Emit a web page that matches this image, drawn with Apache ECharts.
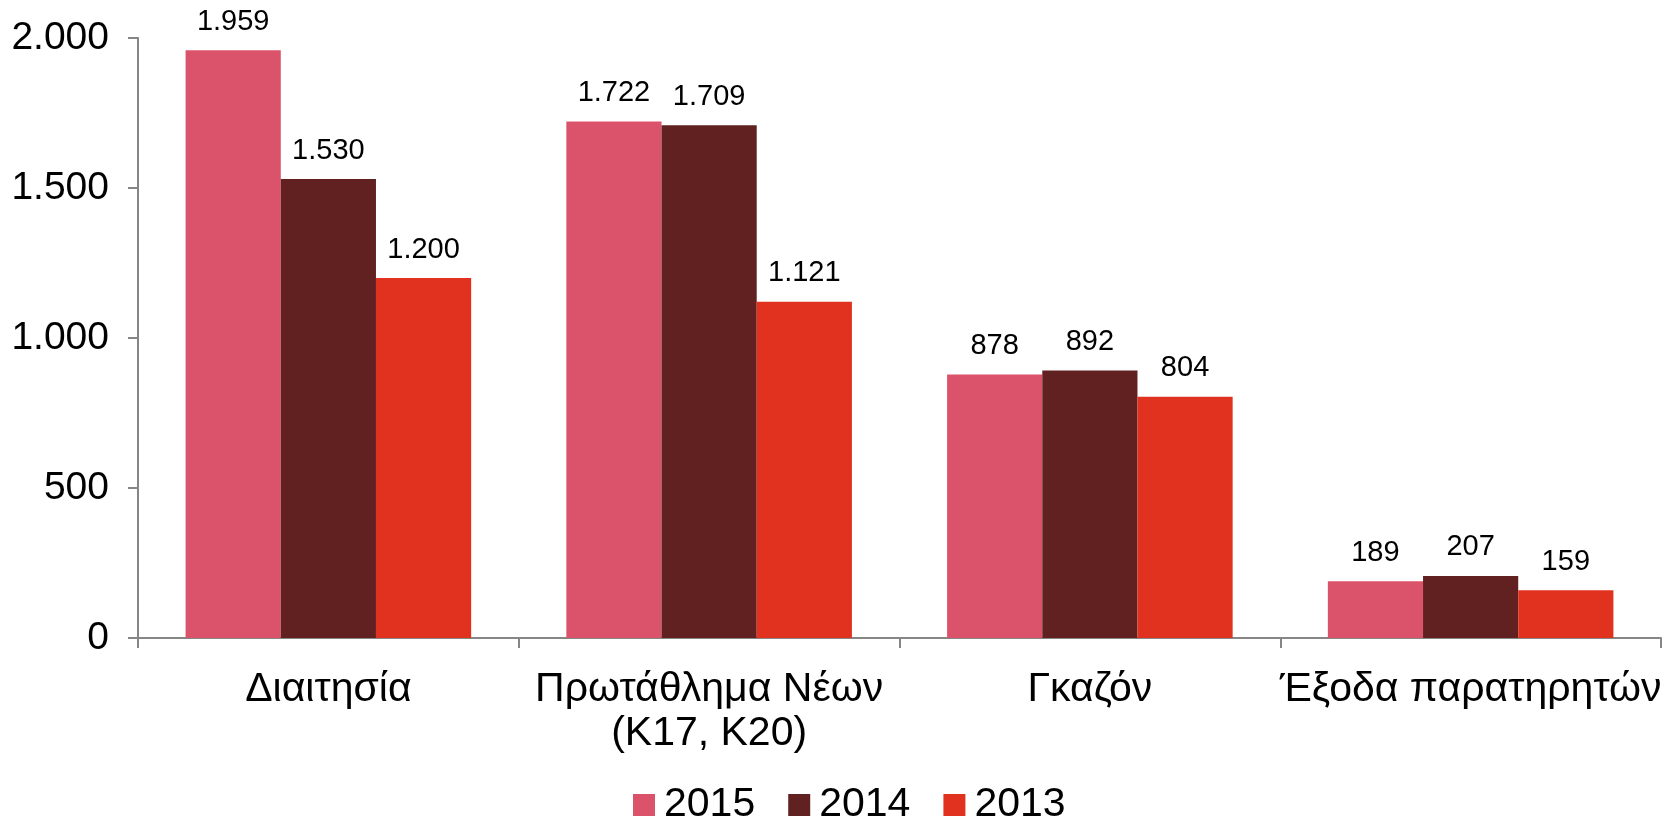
<!DOCTYPE html>
<html>
<head>
<meta charset="utf-8">
<script src="https://cdn.jsdelivr.net/npm/echarts@6/dist/echarts.min.js"></script>
<style>
  html, body { margin: 0; padding: 0; background: #fff; }
  #chart { width: 1667px; height: 820px; }
</style>
</head>
<body>
<div id="chart"></div>
<script>
// categories and values
var categories = ['Διαιτησία', 'Πρωτάθλημα Νέων\n(Κ17, Κ20)', 'Γκαζόν', 'Έξοδα παρατηρητών']
var years = ['2015', '2014', '2013']
var values2015 = [1959, 1722, 878, 189]
var values2014 = [1530, 1709, 892, 207]
var values2013 = [1200, 1121, 804, 159]
var yTicks = [0, 500, 1000, 1500, 2000]

var colors = ['#DB536B', '#612121', '#E0321F']
var font = 'Liberation Sans, Arial, sans-serif'

// 1959 -> 1.959
function fmt(v) {
  return String(v).replace(/\B(?=(\d{3})+(?!\d))/g, '.')
}

function makeSeries(name, data, color) {
  return {
    name: name,
    type: 'bar',
    data: data,
    barGap: '0%',
    barCategoryGap: '25%',
    itemStyle: { color: color },
    label: {
      show: true,
      position: 'top',
      distance: 14,
      fontSize: 29,
      fontFamily: font,
      color: '#000',
      formatter: function(p) { return fmt(p.value) }
    },
    animation: false
  }
}

var chart = echarts.init(document.getElementById('chart'))
chart.setOption({
  textStyle: { fontFamily: font },
  grid: { left: 138, right: 6, top: 38, bottom: 182, containLabel: false },
  legend: {
    data: years,
    top: 778,
    left: 628,
    icon: 'rect',
    itemWidth: 22,
    itemHeight: 22,
    itemGap: 33,
    textStyle: { fontSize: 41, lineHeight: 44, fontFamily: font, color: '#000', padding: [0, 0, 0, 4] }
  },
  xAxis: {
    type: 'category',
    data: categories,
    axisLine: { lineStyle: { color: '#868686', width: 2 } },
    axisTick: { show: true, length: 10, lineStyle: { color: '#868686', width: 2 } },
    axisLabel: {
      fontSize: 41,
      fontFamily: font,
      color: '#000',
      margin: 30,
      lineHeight: 44,
      interval: 0
    }
  },
  yAxis: {
    type: 'value',
    min: yTicks[0],
    max: yTicks[yTicks.length - 1],
    interval: 500,
    splitLine: { show: false },
    axisLine: { show: true, lineStyle: { color: '#868686', width: 2 } },
    axisTick: { show: true, length: 10, lineStyle: { color: '#868686', width: 2 } },
    axisLabel: {
      fontSize: 39,
      fontFamily: font,
      color: '#000',
      margin: 29,
      formatter: function(v) { return fmt(v) }
    }
  },
  series: [
    makeSeries(years[0], values2015, colors[0]),
    makeSeries(years[1], values2014, colors[1]),
    makeSeries(years[2], values2013, colors[2])
  ]
})
</script>
</body>
</html>
